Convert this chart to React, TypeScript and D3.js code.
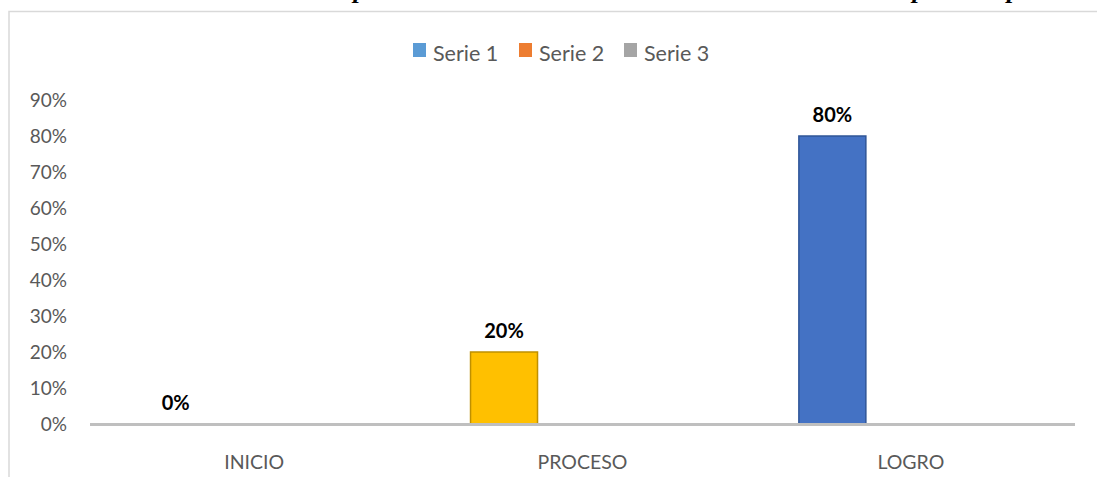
import React from "react";
import * as d3 from "d3";

const categories = ["INICIO", "PROCESO", "LOGRO"];
const seriesNames = ["Serie 1", "Serie 2", "Serie 3"];
const serie1 = [0, 0.2, 0.8];
const serie2 = [0, 0, 0];
const serie3 = [0, 0, 0];
const yTicks = [0, 0.1, 0.2, 0.3, 0.4, 0.5, 0.6, 0.7, 0.8, 0.9];
const legendColors = ["#5B9BD5", "#ED7D31", "#A5A5A5"];
const pointFill = ["#A5A5A5", "#FFC000", "#4472C4"];
const pointStroke = ["#7F7F7F", "#BF9000", "#2F5597"];
const titleText = "Nivel de expresión oral de los resultados de la evaluación de la prueba aplicada a los niños";

const W = 1097;
const H = 477;
const plotLeft = 90;
const plotRight = 1075;
const plotTop = 100;
const plotBottom = 424;

export default function App() {
  const x = d3.scaleBand<string>().domain(categories).range([plotLeft, plotRight]).paddingInner(0).paddingOuter(0);
  const bw = x.bandwidth();
  const inner = d3.scaleBand<string>().domain(seriesNames).range([bw * 0.159, bw * 0.771]).padding(0);
  const y = d3.scaleLinear().domain([0, 0.9]).range([plotBottom, plotTop]);
  const allSeries = [serie1, serie2, serie3];
  const fmt = d3.format(".0%");
  const font = "Lato, 'Open Sans', 'Noto Sans', sans-serif";

  const legendX = [413, 519, 624];

  return (
    <svg width={W} height={H} style={{ position: "absolute", left: 0, top: 0, background: "#fff" }} fontFamily={font}>
      <text x={235} y={-2.5} fontFamily="'Liberation Serif', 'Times New Roman', serif" fontStyle="italic" fontWeight="bold" fontSize={26} fill="#000">
        {titleText}
      </text>
      <rect x={9} y={11.5} width={W + 20} height={H + 20} fill="none" stroke="#d9d9d9" strokeWidth={1.5} />
      {/* legend */}
      {seriesNames.map((s, i) => (
        <g key={s}>
          <rect x={legendX[i]} y={43} width={13} height={14} fill={legendColors[i]} />
          <text x={legendX[i] + 20} y={61} fontSize={21.5} fill="#595959">{s}</text>
        </g>
      ))}
      {/* y ticks */}
      {yTicks.map((t) => (
        <text key={t} x={67} y={y(t) + 7} textAnchor="end" fontSize={19} fill="#595959">{fmt(t)}</text>
      ))}
      {/* bars */}
      {allSeries.map((vals, si) =>
        vals.map((v, ci) => {
          if (v <= 0) return null;
          const bx = (x(categories[ci]) as number) + (inner(seriesNames[si]) as number);
          const bwid = inner.bandwidth();
          return (
            <rect key={`${si}-${ci}`} x={bx} y={y(v)} width={bwid} height={plotBottom - y(v)}
              fill={pointFill[ci]} stroke={pointStroke[ci]} strokeWidth={1.5} />
          );
        })
      )}
      {/* data labels for serie 1 */}
      {serie1.map((v, ci) => {
        const cx = (x(categories[ci]) as number) + (inner(seriesNames[0]) as number) + inner.bandwidth() / 2;
        return (
          <text key={ci} x={cx} y={y(v) - 14} textAnchor="middle" fontSize={20} fontWeight="bold" fill="#000">{fmt(v)}</text>
        );
      })}
      {/* x axis */}
      <line x1={plotLeft} x2={plotRight} y1={plotBottom + 0.5} y2={plotBottom + 0.5} stroke="#bfbfbf" strokeWidth={3} />
      {categories.map((c) => (
        <text key={c} x={(x(c) as number) + bw / 2} y={469} textAnchor="middle" fontSize={19.5} fill="#595959">{c}</text>
      ))}
    </svg>
  );
}
